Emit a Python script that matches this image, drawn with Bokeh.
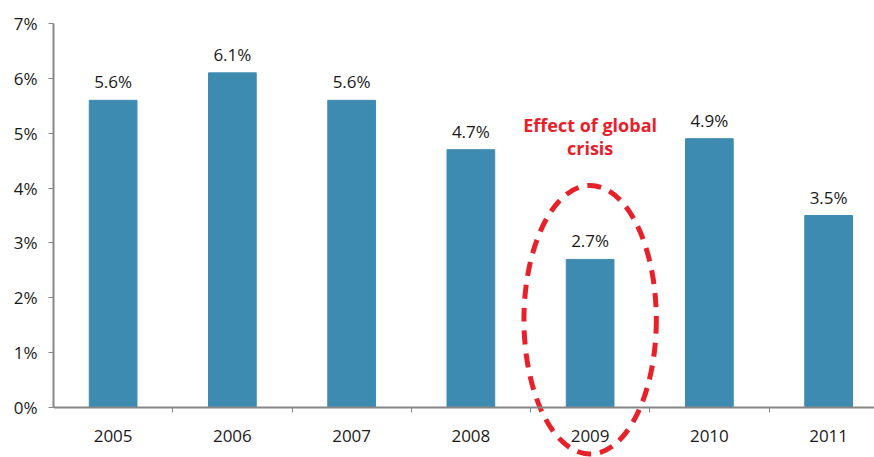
from bokeh.plotting import figure
from bokeh.models import FixedTicker, Range1d, ColumnDataSource
from bokeh.core.properties import value
from bokeh.embed import file_html
from bokeh.resources import INLINE

years = ["2005", "2006", "2007", "2008", "2009", "2010", "2011"]
growth = [5.6, 6.1, 5.6, 4.7, 2.7, 4.9, 3.5]
value_labels = ["5.6%", "6.1%", "5.6%", "4.7%", "2.7%", "4.9%", "3.5%"]
y_ticks = [0, 1, 2, 3, 4, 5, 6, 7]
y_tick_labels = ["0%", "1%", "2%", "3%", "4%", "5%", "6%", "7%"]
note_text = "Effect of global\ncrisis"
highlight_year = "2009"

xs = [i + 0.5 for i in range(len(years))]
src = ColumnDataSource(dict(x=xs, top=growth, lab=value_labels))

FONT = "Open Sans"
BAR = "#3E8BB1"
AXIS = "#878787"

p = figure(width=874, height=457, output_backend="svg", toolbar_location=None,
           x_range=Range1d(0, 821 / 119.25), y_range=Range1d(-0.911, 7.0),
           min_border_left=53, min_border_right=0, min_border_top=23, min_border_bottom=0)
p.outline_line_color = None
p.grid.visible = False
p.background_fill_color = "white"

p.vbar(x="x", top="top", bottom=0, width=0.4, source=src, fill_color=BAR, line_color=BAR)
p.text(x="x", y="top", text="lab", source=src, text_align="center", text_baseline="bottom",
       y_offset=-7, text_font=value(FONT), text_font_size="17px", text_color="#1a1a1a")

hx = xs[years.index(highlight_year)]
p.text(x=[hx], y=[5.14], text=[note_text], text_align="center", text_baseline="middle",
       text_font=value(FONT), text_font_style="bold", text_font_size="18px",
       text_color="#E8202A", text_line_height=0.95, y_offset=11)
p.ellipse(x=[hx], y=[1.6], width=[1.11], height=[4.9], fill_color=None,
          line_color="#E8202A", line_width=5, line_dash="14 9")

# x axis
xa = p.xaxis[0]
xa.fixed_location = 0
xa.ticker = FixedTicker(ticks=xs, minor_ticks=[1, 2, 3, 4, 5, 6])
xa.major_label_overrides = {x: y for x, y in zip(xs, years)}
xa.major_tick_line_color = None
xa.minor_tick_out = 5
xa.minor_tick_in = 0
xa.minor_tick_line_color = AXIS
xa.axis_line_color = AXIS
xa.axis_line_width = 2
xa.major_label_standoff = 16
xa.major_label_text_font = FONT
xa.major_label_text_font_size = "17px"
xa.major_label_text_color = "#1a1a1a"

ya = p.yaxis[0]
ya.bounds = (0, 7)
ya.ticker = FixedTicker(ticks=y_ticks, minor_ticks=[])
ya.major_label_overrides = {t: l for t, l in zip(y_ticks, y_tick_labels)}
ya.major_tick_out = 5
ya.major_tick_in = 0
ya.major_tick_line_color = AXIS
ya.axis_line_color = AXIS
ya.axis_line_width = 2
ya.major_label_standoff = 11
ya.major_label_text_font = FONT
ya.major_label_text_font_size = "17px"
ya.major_label_text_color = "#1a1a1a"

open("out.html", "w").write(file_html(p, INLINE))
